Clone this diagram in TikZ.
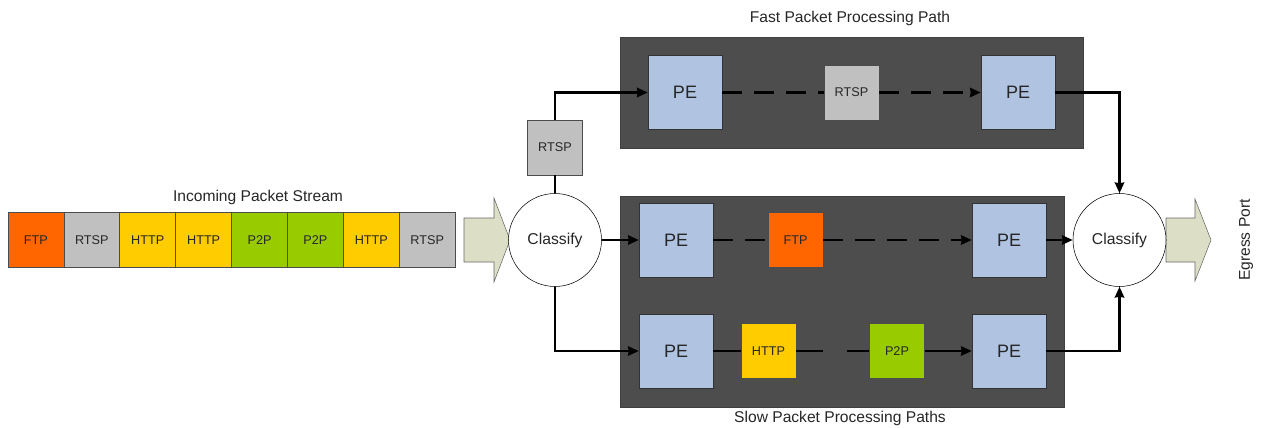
\documentclass[tikz,border=0pt]{standalone}
\usepackage{fontspec}
\setmainfont{Liberation Sans}
\usetikzlibrary{positioning, arrows.meta}
\definecolor{ftpc}{HTML}{FF6600}
\definecolor{rtspc}{HTML}{C0C0C0}
\definecolor{httpc}{HTML}{FFCC00}
\definecolor{ptpc}{HTML}{99CC00}
\definecolor{pec}{HTML}{B0C4E2}
\definecolor{panelc}{HTML}{4D4D4D}
\definecolor{portc}{HTML}{DCDFC6}
\tikzset{
  pkt/.style={draw=black!70, minimum width=41.5pt, minimum height=41.5pt, inner sep=0pt,
    font=\fontsize{9.5}{11}\selectfont, text=black!85},
  pe/.style={draw=black!80, fill=pec, minimum size=55.5pt, inner sep=0pt,
    font=\fontsize{13.5}{15}\selectfont, text=black!85},
  cls/.style={circle, draw, fill=white, minimum size=69.75pt, inner sep=0pt,
    font=\fontsize{11.8}{13}\selectfont, text=black!85},
  panel/.style={fill=panelc, draw=black!75},
  lbl/.style={font=\fontsize{11.7}{13}\selectfont, text=black!85},
  port/.style={fill=portc, draw=black!60},
  link/.style={line width=1.8pt},
  dsh/.style={line width=1.8pt, dash pattern=on 15pt off 9pt},
}
\begin{document}
\begin{tikzpicture}[x=0.75pt, y=-0.75pt, >={Stealth[length=8pt, width=7pt, inset=0.5pt]}]
	\useasboundingbox (0,0) rectangle (1261,428);
	% panels
	\draw[panel] (620,37) rectangle (1083,148);
	\draw[panel] (620,196) rectangle (1064,407);
	\node[lbl] (fastlbl) at (850,18) {Fast Packet Processing Path};
	\node[lbl] (slowlbl) at (840,418) {Slow Packet Processing Paths};
	% incoming stream
	\foreach \t/\c [count=\i] in {FTP/ftpc, RTSP/rtspc, HTTP/httpc, HTTP/httpc, P2P/ptpc, P2P/ptpc, HTTP/httpc, RTSP/rtspc}
		\node[pkt, fill=\c, minimum width=42pt] (p\i) at ({8+55.9*(\i-0.5)},240) {\t};
	\node[lbl] (inlbl) at (258,197) {Incoming Packet Stream};
	\draw[port] (464,218) -- (494,218) -- (494,198) -- (510,240) -- (494,282) -- (494,262) -- (464,262) -- cycle;
	\draw[port] (1166,218) -- (1195,218) -- (1195,199) -- (1211,240) -- (1195,281) -- (1195,262) -- (1166,262) -- cycle;
	\node[cls] (c1) at (555,240) {Classify};
	\node[cls] (c2) at (1119.5,240) {Classify};
	\node[lbl, rotate=90] (egress) at (1246,240) {Egress Port};
	% fast path
	\node[pkt, fill=rtspc] (r0) at (555,147.5) {RTSP};
	\node[pe] (f1) at (685,92.5) {PE};
	\node[pkt, fill=rtspc] (r1) at (851.5,92.5) {RTSP};
	\node[pe] (f2) at (1018,92.5) {PE};
	% slow paths
	\node[pe] (s1) at (676,240) {PE};
	\node[pkt, fill=ftpc] (ftp) at (795.5,240) {FTP};
	\node[pe] (s2) at (1009,240) {PE};
	\node[pe] (s3) at (676,351) {PE};
	\node[pkt, fill=httpc] (http) at (768.5,351) {HTTP};
	\node[pkt, fill=ptpc] (ptp) at (897,351) {P2P};
	\node[pe] (s4) at (1009,351) {PE};
	\coordinate (gapl) at (823,351);
	\coordinate (gapr) at (847,351);
	% connectors
	\draw[link] (c1) -- (r0);
	\draw[link, ->] (r0) |- (f1);
	\draw[dsh] (f1) -- (r1);
	\draw[dsh, ->] (r1) -- (f2);
	\draw[link, ->] (f2) -| (c2);
	\draw[link, ->] (c1) -- (s1);
	\draw[dsh] (s1) -- (ftp);
	\draw[dsh, ->] (ftp) -- (s2);
	\draw[link, ->] (s2) -- (c2);
	\draw[link, ->] (c1) |- (s3);
	\draw[link] (s3) -- (http);
	\draw[link] (http) -- (gapl);
	\draw[link] (gapr) -- (ptp);
	\draw[link, ->] (ptp) -- (s4);
	\draw[link, ->] (s4) -| (c2);
\end{tikzpicture}
\end{document}
